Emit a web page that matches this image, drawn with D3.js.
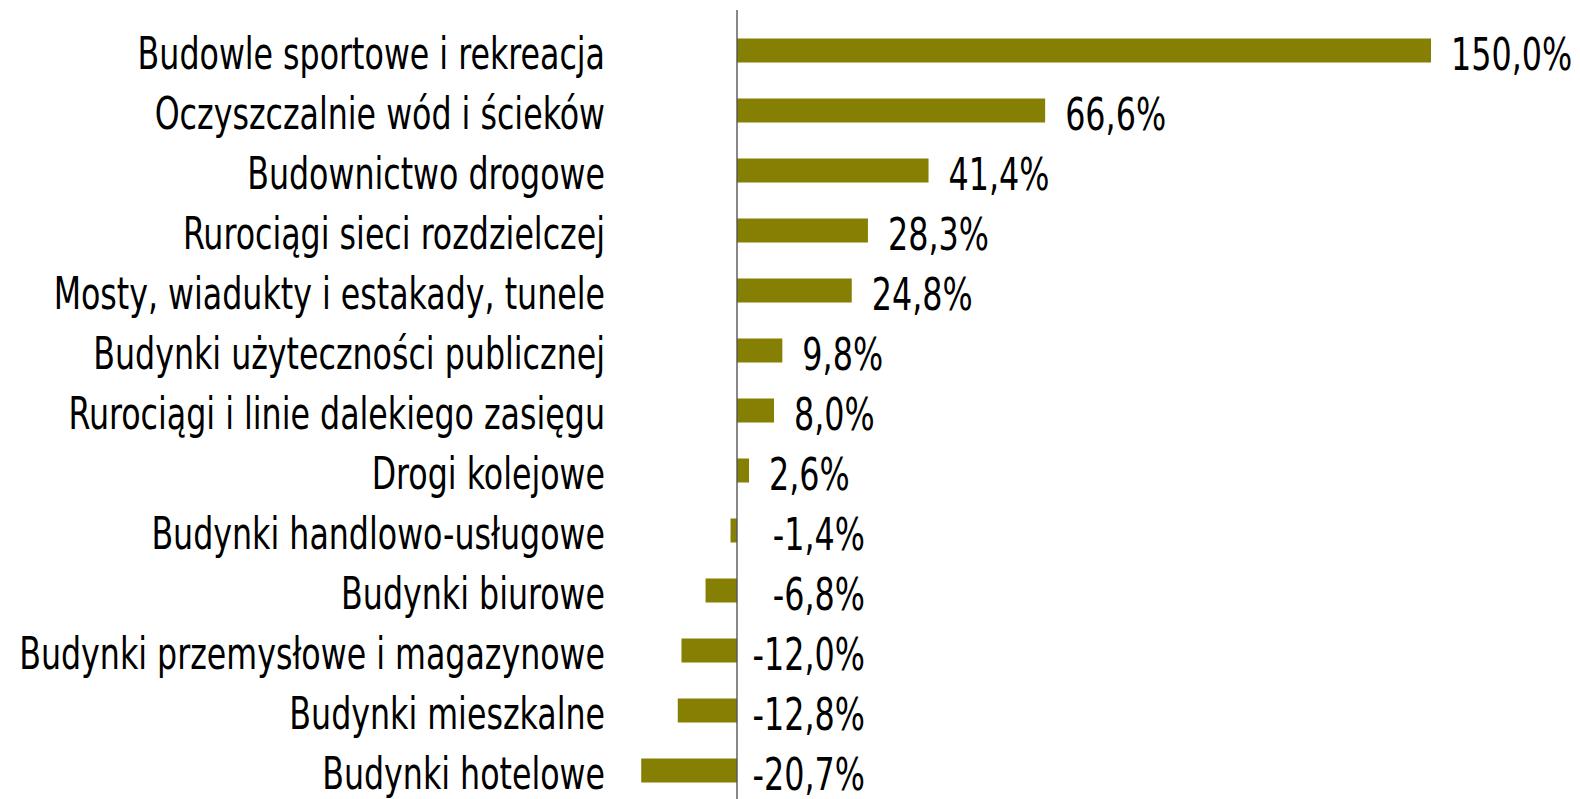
<!DOCTYPE html>
<html>
<head>
<meta charset="utf-8">
<script src="https://cdn.jsdelivr.net/npm/d3@7"></script>
<style>
  html, body { margin: 0; padding: 0; background: #fff; }
  svg { display: block; }
  text { font-family: "Liberation Sans Narrow", "DejaVu Sans Condensed", "Liberation Sans", sans-serif; fill: #000; }
</style>
</head>
<body>
<svg id="chart" width="1580" height="799"></svg>
<script>
const categories = [
  "Budowle sportowe i rekreacja",
  "Oczyszczalnie wód i ścieków",
  "Budownictwo drogowe",
  "Rurociągi sieci rozdzielczej",
  "Mosty, wiadukty i estakady, tunele",
  "Budynki użyteczności publicznej",
  "Rurociągi i linie dalekiego zasięgu",
  "Drogi kolejowe",
  "Budynki handlowo-usługowe",
  "Budynki biurowe",
  "Budynki przemysłowe i magazynowe",
  "Budynki mieszkalne",
  "Budynki hotelowe"
];
const values = [150.0, 66.6, 41.4, 28.3, 24.8, 9.8, 8.0, 2.6, -1.4, -6.8, -12.0, -12.8, -20.7];
const valueLabels = ["150,0%", "66,6%", "41,4%", "28,3%", "24,8%", "9,8%", "8,0%", "2,6%", "-1,4%", "-6,8%", "-12,0%", "-12,8%", "-20,7%"];

const svg = d3.select("#chart");
const barColor = "#857F03";

const x = d3.scaleLinear().domain([0, 150]).range([737, 1431]);
const y = d3.scaleBand().domain(categories).range([20.5, 800.5]).paddingInner(0.6).paddingOuter(0.3);

// bars
svg.append("g").selectAll("rect")
  .data(values)
  .join("rect")
  .attr("x", d => Math.min(x(0), x(d)))
  .attr("width", d => Math.abs(x(d) - x(0)))
  .attr("y", (d, i) => y(categories[i]))
  .attr("height", y.bandwidth())
  .attr("fill", barColor);

// axis line
svg.append("line")
  .attr("x1", x(0)).attr("x2", x(0))
  .attr("y1", 10).attr("y2", 799)
  .attr("stroke", "#555").attr("stroke-width", 1.4);

const fontSize = 45;

// category labels
const catG = svg.append("g");
const catTexts = catG.selectAll("text")
  .data(categories)
  .join("text")
  .attr("text-anchor", "end")
  .attr("font-size", fontSize)
  .text(d => d);
let maxW = 0;
catTexts.each(function() { maxW = Math.max(maxW, this.getComputedTextLength()); });
const catScale = 586 / maxW;
catTexts.attr("transform", d => `translate(605,${y(d) + y.bandwidth() / 2 + 18}) scale(${catScale},1)`);

// value labels
const valG = svg.append("g");
const valTexts = valG.selectAll("text")
  .data(values)
  .join("text")
  .attr("font-size", fontSize)
  .attr("text-anchor", d => d >= 0 ? "start" : "end")
  .text((d, i) => valueLabels[i]);
let refW = 0;
valTexts.each(function(d, i) { if (valueLabels[i] === "66,6%") refW = this.getComputedTextLength(); });
const valScale = 101 / refW;
valTexts.attr("transform", (d, i) => {
  const cy = y(categories[i]) + y.bandwidth() / 2 + 19;
  const px = d >= 0 ? x(d) + 20 : x(0) + 128;
  return `translate(${px},${cy}) scale(${valScale},1)`;
});
</script>
</body>
</html>
